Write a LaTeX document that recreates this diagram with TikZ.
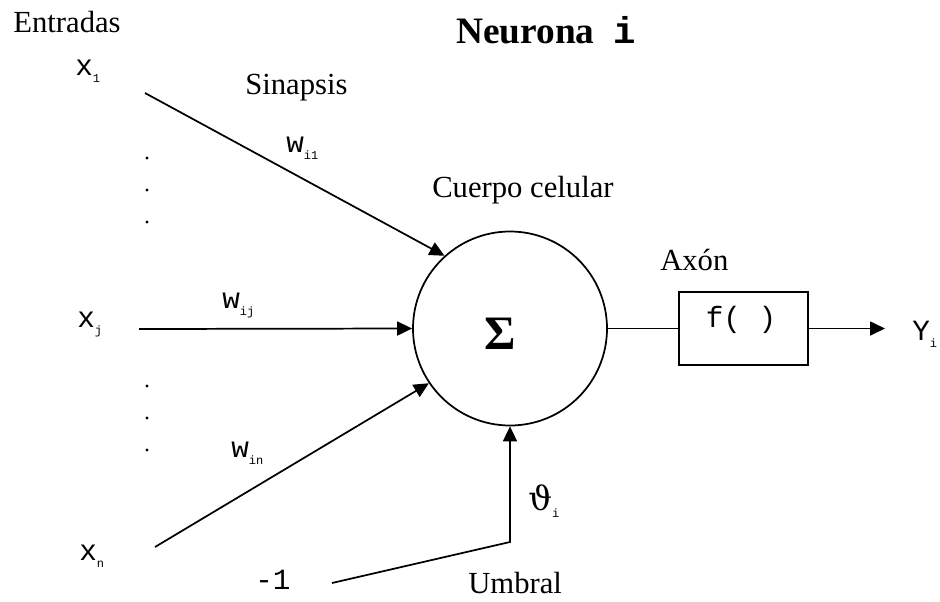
\documentclass[tikz,border=0pt]{standalone}
\usepackage{fontspec}
\setmainfont{Liberation Serif}
\setmonofont{Liberation Mono}
\newfontfamily\symfont{DejaVu Serif}
\usetikzlibrary{arrows.meta}
\newcommand\sbs[1]{\raisebox{-5.5pt}{\fontsize{9}{10}\selectfont\ttfamily #1}}
\begin{document}
\begin{tikzpicture}[x=0.75pt,y=-0.75pt,
  lbl/.style={font=\fontsize{23}{26}\selectfont, inner sep=0pt},
  mono/.style={font=\fontsize{22}{24}\selectfont\ttfamily, inner sep=0pt},
  wire/.style={line width=1.3pt},
  arr/.style={wire,-{Triangle[length=11.25pt,width=10.5pt]}},
  dotm/.style={circle,fill=black,inner sep=0pt,minimum size=2.4pt}]
\useasboundingbox (0,0) rectangle (940,601);
% titles and labels
\node[lbl,anchor=base] (entradas) at (67,32) {Entradas};
\node[inner sep=0pt,anchor=base,font=\fontsize{28}{30}\selectfont\bfseries] (titulo) at (546,43) {Neurona\ \ {\ttfamily i}};
\node[lbl,anchor=base west] (sinapsis) at (245,94) {Sinapsis};
\node[lbl,anchor=base west] (cuerpo) at (432,197) {Cuerpo celular};
\node[lbl,anchor=base west] (axon) at (660,270) {Axón};
\node[lbl,anchor=base west] (umbral) at (468,593) {Umbral};
% soma and activation
\node[draw,circle,line width=1.3pt,minimum size=145.5pt,inner sep=0pt] (soma) at (510,328.5) {};
\node[inner sep=0pt,anchor=base,font=\fontsize{36}{38}\selectfont\bfseries] (sigma) at (500.5,349) {Σ};
\node[draw,line width=1.3pt,minimum width=96.75pt,minimum height=54.75pt,inner sep=0pt] (fbox) at (743.5,328.5) {};
\node[mono,anchor=base] (ftext) at (741,327) {f(\ )};
% inputs and output
\node[mono,anchor=base west] (x1) at (75,75) {x\sbs{1}};
\node[mono,anchor=base west] (xj) at (77,327) {x\sbs{j}};
\node[mono,anchor=base west] (xn) at (79,560) {x\sbs{n}};
\node[mono,anchor=base west] (m1) at (255,589) {-1};
\node[mono,anchor=base west] (yi) at (912,340) {Y\sbs{i}};
% weights and threshold
\node[mono,anchor=base west] (wi1) at (286,152) {w\sbs{i1}};
\node[mono,anchor=base west] (wij) at (222,308) {w\sbs{ij}};
\node[mono,anchor=base west] (win) at (231,457) {w\sbs{in}};
\node[anchor=base west,inner sep=0pt,font=\fontsize{25}{27}\selectfont\symfont] (theta) at (528,510) {ϑ\sbs{i}};
% dots
\foreach \y/\n in {158/a,190/b,222/c,386/d,418/e,450/f}
  \node[dotm] (dot\n) at (147,\y) {};
% connector ends
\coordinate (s1) at (145,93);
\coordinate (sj) at (139,329);
\coordinate (sn) at (155,547);
\coordinate (sm) at (332,583);
\coordinate (bend) at (soma.south |- 0,542);
\coordinate (out) at (885,328.5);
% connectors
\draw[arr] (s1) -- (soma.132.3);
\draw[arr] (sj) -- (soma.west);
\draw[arr] (sn) -- (soma.214.2);
\draw[arr] (sm) -- (bend) -- (soma.south);
\draw[wire] (soma.east) -- (fbox.west);
\draw[arr] (fbox.east) -- (out);
\end{tikzpicture}
\end{document}
